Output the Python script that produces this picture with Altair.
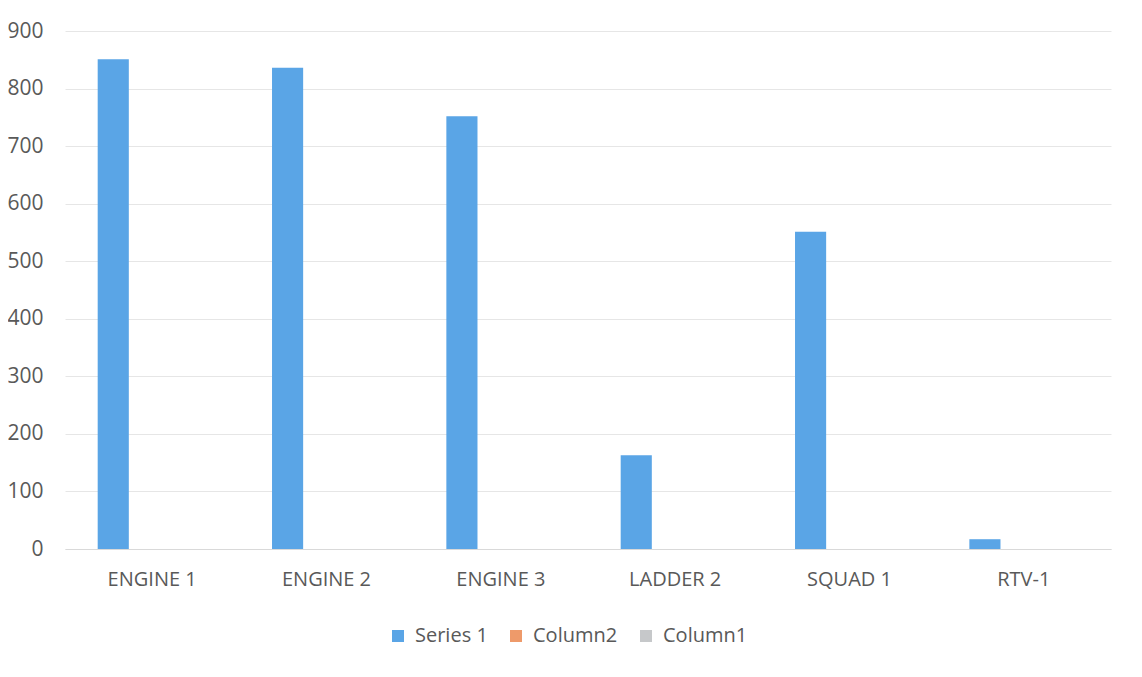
import altair as alt
import pandas as pd

categories = ["ENGINE 1", "ENGINE 2", "ENGINE 3", "LADDER 2", "SQUAD 1", "RTV-1"]
series_names = ["Series 1", "Column2", "Column1"]
series1 = [851, 836, 752, 163, 551, 17]
column2 = [0, 0, 0, 0, 0, 0]
column1 = [0, 0, 0, 0, 0, 0]
colors = ["#5aa5e6", "#ee9a6a", "#c6c8ca"]

rows = []
for i, c in enumerate(categories):
    for s, vals in zip(series_names, [series1, column2, column1]):
        rows.append({"cat": c, "series": s, "value": vals[i]})
df = pd.DataFrame(rows)

font = "Open Sans"

chart = alt.Chart(df).mark_bar().encode(
    x=alt.X("cat:N", sort=categories, title=None,
            scale=alt.Scale(paddingInner=0, paddingOuter=0),
            axis=alt.Axis(labelAngle=0, labelFontSize=20, labelColor="#595959",
                          labelFont=font, domain=True, domainColor="#d9d9d9",
                          ticks=False, labelPadding=20)),
    xOffset=alt.XOffset("series:N", sort=series_names,
                        scale=alt.Scale(domain=series_names, paddingInner=0.2, paddingOuter=0.84)),
    y=alt.Y("value:Q", title=None,
            scale=alt.Scale(domain=[0, 900]),
            axis=alt.Axis(values=list(range(0, 901, 100)), labelFontSize=21,
                          labelColor="#595959", labelFont=font, domain=False,
                          ticks=False, labelPadding=22, gridColor="#e6e6e6",
                          gridWidth=1)),
    color=alt.Color("series:N", sort=series_names,
                    scale=alt.Scale(domain=series_names, range=colors),
                    legend=alt.Legend(title=None, orient="none", direction="horizontal",
                                      legendX=323, legendY=595, symbolType="square",
                                      symbolSize=144, labelFontSize=20,
                                      labelColor="#595959", labelFont=font,
                                      labelOffset=7, columnPadding=18,
                                      symbolStrokeWidth=0)),
).properties(
    width=1046, height=518,
    autosize=alt.AutoSizeParams(type="none"),
    padding={"left": 57, "top": 23, "right": 23, "bottom": 120},
).configure_view(stroke=None)

chart.save("out.html", embed_options={"renderer": "svg", "actions": False})
